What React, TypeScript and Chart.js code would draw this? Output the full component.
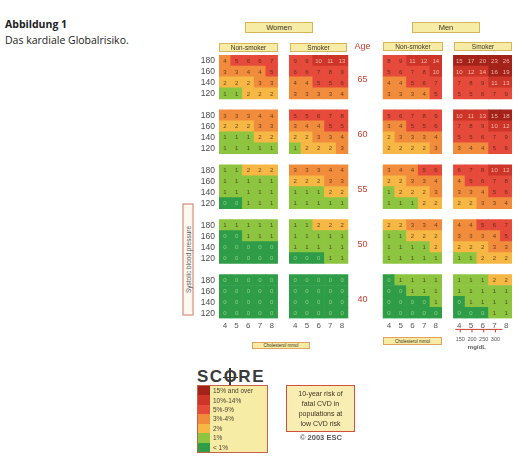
import React, { useEffect, useRef } from "react";
import { Chart, registerables } from "chart.js";
Chart.register(...registerables);

// ---- data ----
const cholesterol = ["4", "5", "6", "7", "8"];
const systolic = ["180", "160", "140", "120"];
const ages = ["65", "60", "55", "50", "40"];
const mgdlTicks = ["150", "200", "250", "300"];
const legendLabels = ["15% and over", "10%-14%", "5%-9%", "3%-4%", "2%", "1%", "< 1%"];
const legendThresholds = [15, 10, 5, 3, 2, 1, 0];

// rows: age 65 (180,160,140,120), age 60 ..., age 40; columns: cholesterol 4..8
const womenNonSmoker = [
  [4, 5, 6, 6, 7], [3, 3, 4, 4, 5], [2, 2, 2, 3, 3], [1, 1, 2, 2, 2],
  [3, 3, 3, 4, 4], [2, 2, 2, 3, 3], [1, 1, 1, 2, 2], [1, 1, 1, 1, 1],
  [1, 1, 2, 2, 2], [1, 1, 1, 1, 1], [1, 1, 1, 1, 1], [0, 0, 1, 1, 1],
  [1, 1, 1, 1, 1], [0, 0, 1, 1, 1], [0, 0, 0, 0, 0], [0, 0, 0, 0, 0],
  [0, 0, 0, 0, 0], [0, 0, 0, 0, 0], [0, 0, 0, 0, 0], [0, 0, 0, 0, 0],
];
const womenSmoker = [
  [9, 9, 10, 11, 13], [6, 6, 7, 8, 9], [4, 4, 5, 5, 6], [3, 3, 3, 3, 4],
  [5, 5, 6, 7, 8], [3, 4, 4, 5, 5], [2, 2, 3, 3, 4], [1, 2, 2, 2, 3],
  [3, 3, 3, 4, 4], [2, 2, 2, 3, 3], [1, 1, 1, 2, 2], [1, 1, 1, 1, 1],
  [1, 1, 2, 2, 2], [1, 1, 1, 1, 1], [1, 1, 1, 1, 1], [0, 0, 0, 1, 1],
  [0, 0, 0, 0, 0], [0, 0, 0, 0, 0], [0, 0, 0, 0, 0], [0, 0, 0, 0, 0],
];
const menNonSmoker = [
  [8, 9, 11, 12, 14], [5, 6, 7, 8, 10], [4, 4, 5, 6, 7], [3, 3, 3, 4, 5],
  [5, 6, 7, 8, 9], [3, 4, 5, 5, 6], [2, 3, 3, 3, 4], [2, 2, 2, 2, 3],
  [3, 4, 4, 5, 6], [2, 2, 3, 3, 4], [1, 2, 2, 2, 3], [1, 1, 1, 2, 2],
  [2, 2, 3, 3, 4], [1, 1, 2, 2, 2], [1, 1, 1, 1, 2], [1, 1, 1, 1, 1],
  [0, 1, 1, 1, 1], [0, 0, 1, 1, 1], [0, 0, 0, 0, 1], [0, 0, 0, 0, 0],
];
const menSmoker = [
  [15, 17, 20, 23, 26], [10, 12, 14, 16, 19], [7, 8, 9, 11, 13], [5, 5, 6, 7, 9],
  [10, 11, 13, 15, 18], [7, 8, 9, 10, 12], [5, 5, 6, 7, 9], [3, 4, 4, 5, 6],
  [6, 7, 8, 10, 12], [4, 5, 6, 7, 8], [3, 3, 4, 5, 6], [2, 2, 3, 3, 4],
  [4, 4, 5, 6, 7], [3, 3, 3, 4, 5], [2, 2, 2, 3, 3], [1, 1, 2, 2, 2],
  [1, 1, 1, 2, 2], [1, 1, 1, 1, 1], [0, 1, 1, 1, 1], [0, 0, 0, 1, 1],
];

const panels = [womenNonSmoker, womenSmoker, menNonSmoker, menSmoker];
const gapsAfter = [1, 3, 1, 0];

function riskColor(v: number): string {
  if (v >= 15) return "#A3231B";
  if (v >= 10) return "#CC3528";
  if (v >= 5) return "#E64A3A";
  if (v >= 3) return "#F08C3C";
  if (v >= 2) return "#F6B744";
  if (v >= 1) return "#8DC540";
  return "#2F9D48";
}
function textColor(v: number): string {
  if (v >= 10) return "rgba(255,205,190,0.85)";
  if (v < 1) return "rgba(150,215,140,0.9)";
  return "rgba(60,35,20,0.75)";
}

const FONT = "'Liberation Sans', Arial, sans-serif";

function buildChartData() {
  const labels: string[] = [];
  const cellOf: ({ p: number; c: number } | null)[] = [];
  panels.forEach((_, p) => {
    cholesterol.forEach((ch, c) => {
      labels.push(ch);
      cellOf.push({ p, c });
    });
    for (let g = 0; g < gapsAfter[p]; g++) {
      labels.push("");
      cellOf.push(null);
    }
  });
  const datasets: any[] = [];
  for (let a = ages.length - 1; a >= 0; a--) {
    for (let r = systolic.length - 1; r >= 0; r--) {
      const row = a * 4 + r;
      const risk = cellOf.map((cell) => (cell ? panels[cell.p][row][cell.c] : null));
      datasets.push({
        label: `age ${ages[a]} sbp ${systolic[r]}`,
        data: risk.map((v) => (v === null ? null : 1)),
        risk,
        rowLabel: systolic[r],
        backgroundColor: risk.map((v) => (v === null ? "rgba(0,0,0,0)" : riskColor(v))),
        borderWidth: 0,
        categoryPercentage: 1,
        barPercentage: 1,
      });
    }
    if (a > 0) {
      datasets.push({
        label: "gap",
        data: cellOf.map((cell) => (cell ? 1 : null)),
        backgroundColor: "rgba(0,0,0,0)",
        borderWidth: 0,
        categoryPercentage: 1,
        barPercentage: 1,
      });
    }
  }
  return { labels, datasets };
}

const annotate = {
  id: "scoreAnnotations",
  afterDatasetsDraw(chart: any) {
    const ctx = chart.ctx;
    const x = chart.scales.x;
    const y = chart.scales.y;
    ctx.save();
    ctx.textAlign = "center";
    ctx.textBaseline = "middle";
    chart.data.datasets.forEach((ds: any, i: number) => {
      if (!ds.risk) return;
      const meta = chart.getDatasetMeta(i);
      meta.data.forEach((el: any, j: number) => {
        const v = ds.risk[j];
        if (v === null || v === undefined) return;
        const p = el.getProps(["x", "y", "base"], true);
        ctx.font = `6px ${FONT}`;
        ctx.fillStyle = textColor(v);
        ctx.fillText(String(v), p.x, (p.y + p.base) / 2 + 0.5);
      });
      // row labels on the left
      const first = meta.data[0];
      if (first) {
        const p = first.getProps(["y", "base"], true);
        ctx.font = `8.5px ${FONT}`;
        ctx.fillStyle = "#4a4a4a";
        ctx.textAlign = "right";
        ctx.fillText(ds.rowLabel, chart.chartArea.left - 4, (p.y + p.base) / 2 + 0.5);
        ctx.textAlign = "center";
      }
    });
    // age labels in the wide gap
    const ageX = x.getPixelForValue(12) - 3;
    ctx.fillStyle = "#C8402E";
    ctx.font = `9px ${FONT}`;
    ages.forEach((age, a) => {
      const p = ages.length - 1 - a;
      const yc = y.getPixelForValue(p * 5 + 2);
      ctx.fillText(age, ageX, yc + 3);
    });
    ctx.fillText("Age", ageX, y.getPixelForValue(24) - 8);
    // mg/dL scale under the men smoker panel
    const lineY = chart.chartArea.bottom + 11;
    ctx.strokeStyle = "#C8402E";
    ctx.lineWidth = 1;
    ctx.beginPath();
    ctx.moveTo(x.getPixelForValue(20) - 4, lineY);
    ctx.lineTo(x.getPixelForValue(23) + 8, lineY);
    ctx.stroke();
    ctx.fillStyle = "#555";
    ctx.font = `5.5px ${FONT}`;
    mgdlTicks.forEach((t, k) => {
      const tx = x.getPixelForValue(20 + k) + 1;
      ctx.beginPath();
      ctx.moveTo(tx, lineY);
      ctx.lineTo(tx, lineY + 3);
      ctx.stroke();
      ctx.fillText(t, tx, lineY + 10);
    });
    ctx.font = `bold 6px ${FONT}`;
    ctx.fillText("mg/dL", (x.getPixelForValue(21) + x.getPixelForValue(22)) / 2, lineY + 18);
    ctx.restore();
  },
};

const boxBase: React.CSSProperties = {
  position: "absolute",
  boxSizing: "border-box",
  background: "#F7ECA6",
  border: "1px solid #D6B45A",
  color: "#3b3320",
  fontFamily: FONT,
  display: "flex",
  alignItems: "center",
  justifyContent: "center",
  whiteSpace: "nowrap",
  overflow: "hidden",
};

function Box(props: { l: number; t: number; w: number; h: number; size: number; text: string; border?: string }) {
  return (
    <div
      style={{
        ...boxBase,
        left: props.l,
        top: props.t,
        width: props.w,
        height: props.h,
        fontSize: props.size,
        border: `1px solid ${props.border || "#D6B45A"}`,
      }}
    >
      {props.text}
    </div>
  );
}

export default function App() {
  const ref = useRef<HTMLCanvasElement>(null);
  useEffect(() => {
    if (!ref.current) return;
    Chart.defaults.font.family = FONT;
    const { labels, datasets } = buildChartData();
    const chart = new Chart(ref.current, {
      type: "bar",
      data: { labels, datasets },
      options: {
        animation: false,
        responsive: false,
        maintainAspectRatio: false,
        layout: { padding: { left: 39, top: 45, right: 7, bottom: 21 } },
        plugins: { legend: { display: false }, tooltip: { enabled: false } },
        scales: {
          x: {
            stacked: true,
            grid: { display: false, drawTicks: false },
            border: { display: false },
            ticks: { autoSkip: false, maxRotation: 0, font: { size: 8 }, color: "#555", padding: 3 },
          },
          y: { stacked: true, display: false, min: 0, max: 24 },
        },
      },
      plugins: [annotate],
    });
    return () => chart.destroy();
  }, []);

  return (
    <div style={{ position: "absolute", left: 0, top: 0, width: 519, height: 466, background: "#fff", fontFamily: FONT }}>
      <div style={{ position: "absolute", left: 5, top: 17, fontFamily: "'Open Sans', sans-serif", fontSize: 10.5, fontWeight: 700, color: "#222", lineHeight: "14px" }}>
        Abbildung 1
      </div>
      <div style={{ position: "absolute", left: 5, top: 33, fontFamily: "'Open Sans', sans-serif", fontSize: 10.5, color: "#222", lineHeight: "14px" }}>
        Das kardiale Globalrisiko.
      </div>

      <canvas ref={ref} width={339} height={345} style={{ position: "absolute", left: 180, top: 10, width: 339, height: 345 }} />

      <Box l={245} t={22} w={68} h={11} size={7.5} text="Women" />
      <Box l={412} t={22} w={68} h={11} size={7.5} text="Men" />
      <Box l={219} t={43} w={59} h={9} size={6.5} text="Non-smoker" />
      <Box l={290} t={43} w={57} h={9} size={6.5} text="Smoker" />
      <Box l={383} t={42} w={60} h={9} size={6.5} text="Non-smoker" />
      <Box l={454} t={42} w={58} h={9} size={6.5} text="Smoker" />
      <Box l={252} t={342} w={58} h={7} size={4.5} text="Cholesterol mmol" border="#E0A060" />
      <Box l={383} t={337} w={59} h={8} size={4.5} text="Cholesterol mmol" border="#E0A060" />

      <div
        style={{
          position: "absolute",
          left: 131.5,
          top: 253.5,
          width: 112,
          height: 11,
          boxSizing: "border-box",
          transform: "rotate(-90deg)",
          border: "1px solid #D07868",
          background: "#FFF9F2",
          color: "#555",
          fontSize: 6.5,
          fontFamily: FONT,
          display: "flex",
          alignItems: "center",
          justifyContent: "center",
          whiteSpace: "nowrap",
        }}
      >
        Systolic blood pressure
      </div>

      <div style={{ position: "absolute", left: 197, top: 368, fontSize: 17, fontWeight: 700, color: "#3a3a3a", letterSpacing: 1.5, lineHeight: "18px", fontFamily: FONT }}>
        SC
        <span style={{ position: "relative", display: "inline-block" }}>
          O
          <span style={{ position: "absolute", left: "50%", top: 0, width: 1.5, height: 18, background: "#3a3a3a", marginLeft: -1.5 }} />
          <span style={{ position: "absolute", left: -1, top: 8.5, width: 15, height: 1.5, background: "#3a3a3a" }} />
        </span>
        RE
      </div>

      <div style={{ position: "absolute", left: 197, top: 385, width: 71, height: 68, boxSizing: "border-box", border: "1px solid #C8604A", background: "#F7ECA6" }}>
        {legendLabels.map((lab, k) => (
          <div key={lab} style={{ position: "absolute", left: 0, top: k * 9.43, height: 9.43, width: 69, display: "flex", alignItems: "center" }}>
            <div style={{ width: 12, height: "100%", background: riskColor(legendThresholds[k]) }} />
            <div style={{ marginLeft: 3, fontSize: 6.5, color: "#4a4030", fontFamily: FONT, whiteSpace: "nowrap" }}>{lab}</div>
          </div>
        ))}
      </div>

      <div
        style={{
          position: "absolute",
          left: 286,
          top: 385,
          width: 69,
          height: 47,
          boxSizing: "border-box",
          border: "1px solid #D0503C",
          background: "#F8EEB4",
          color: "#3b3320",
          fontSize: 7,
          lineHeight: "10px",
          fontFamily: FONT,
          textAlign: "center",
          paddingTop: 3,
        }}
      >
        <div>10-year risk of</div>
        <div>fatal CVD in</div>
        <div>populations at</div>
        <div>low CVD risk</div>
      </div>
      <div style={{ position: "absolute", left: 300, top: 433, fontSize: 7.5, fontWeight: 700, color: "#555", fontFamily: FONT, whiteSpace: "nowrap" }}>
        © 2003 ESC
      </div>
    </div>
  );
}
